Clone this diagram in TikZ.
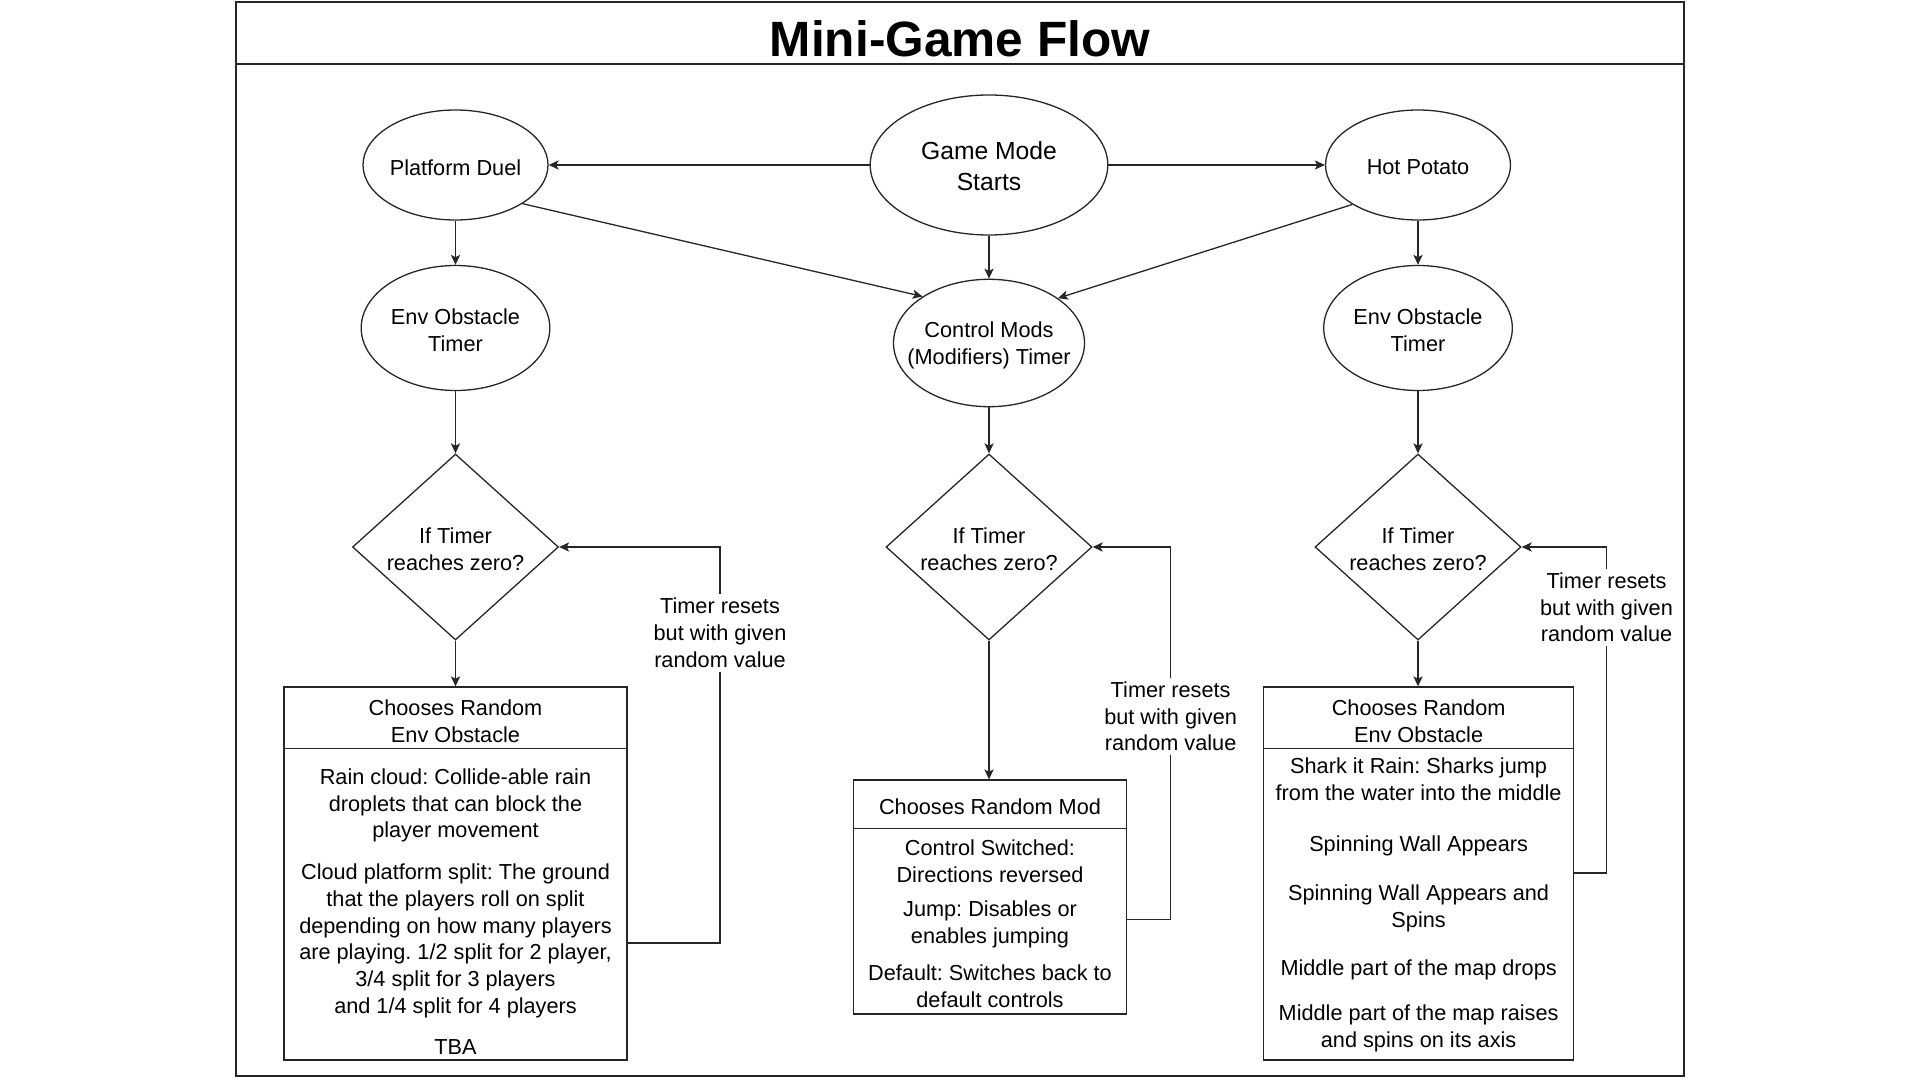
\documentclass[tikz,border=0pt]{standalone}
\usepackage{fontspec}
\setmainfont{Liberation Sans}
\usetikzlibrary{shapes.geometric,arrows.meta}
\frenchspacing
\begin{document}
\begin{tikzpicture}[x=0.5pt,y=-0.5pt,
  ln/.style={line width=0.65pt, draw=black!85},
  arr/.style={ln, -{Stealth[length=5pt,width=4.6pt,inset=1.2pt]}},
  ell/.style={ellipse, ln, inner sep=0pt},
  dia/.style={diamond, ln, inner sep=0pt, minimum width=103pt, minimum height=93pt},
  box/.style={rectangle, ln, inner sep=0pt},
  txt/.style={align=center, inner sep=0pt, yshift=-1.2pt, font=\fontsize{10.85}{13.4}\selectfont},
  big/.style={align=center, inner sep=0pt, yshift=-0.6pt, font=\fontsize{12.35}{15.3}\selectfont},
  lbl/.style={txt, fill=white, inner sep=2pt},
]
\useasboundingbox (0,0) rectangle (1920,1080);
% frame and title
\draw[ln] (236,2) rectangle (1684,1076);
\draw[ln] (236,64) -- (1684,64);
\node[font=\bfseries\fontsize{24.8}{30}\selectfont, inner sep=0pt] (title) at (960,39) {Mini-Game Flow};

% ellipses
\node[ell, minimum width=118.8pt, minimum height=70pt] (gms) at (989,165) {};
\node[big] (gmsT) at (gms) {Game Mode\\Starts};
\node[ell, minimum width=92.5pt, minimum height=55pt] (pd) at (455.5,165) {};
\node[txt] (pdT) at (pd) {Platform Duel};
\node[ell, minimum width=92.5pt, minimum height=55pt] (hp) at (1418,165) {};
\node[txt] (hpT) at (hp) {Hot Potato};
\node[ell, minimum width=94.3pt, minimum height=62.5pt] (eol) at (455.5,328) {};
\node[txt] (eolT) at (eol) {Env Obstacle\\Timer};
\node[ell, minimum width=95.5pt, minimum height=63.7pt] (cm) at (989,343) {};
\node[txt] (cmT) at (cm) {Control Mods\\(Modifiers) Timer};
\node[ell, minimum width=94.3pt, minimum height=62.5pt] (eor) at (1418,328) {};
\node[txt] (eorT) at (eor) {Env Obstacle\\Timer};

% diamonds
\node[dia] (ld) at (455.5,547) {};
\node[txt] (ldT) at (ld) {If Timer\\reaches zero?};
\node[dia] (md) at (989,547) {};
\node[txt] (mdT) at (md) {If Timer\\reaches zero?};
\node[dia] (rd) at (1418,547) {};
\node[txt] (rdT) at (rd) {If Timer\\reaches zero?};

% boxes
\node[box, minimum width=171.5pt, minimum height=186.5pt] (lbox) at (455.5,873.5) {};
\draw[ln] ([yshift=-31pt]lbox.north west) -- ([yshift=-31pt]lbox.north east);
\node[txt] (lh) at (455.5,719) {Chooses Random\\Env Obstacle};
\node[txt] (lb1) at (455.5,803) {Rain cloud: Collide-able rain\\droplets that can block the\\player movement};
\node[txt] (lb2) at (455.5,938.5) {Cloud platform split: The ground\\that the players roll on split\\depending on how many players\\are playing. 1/2 split for 2 player,\\3/4 split for 3 players\\and 1/4 split for 4 players};
\node[txt] (lb3) at (455.5,1044.5) {TBA};

\node[box, minimum width=136.5pt, minimum height=117pt] (mbox) at (990,897) {};
\draw[ln] ([yshift=-24.5pt]mbox.north west) -- ([yshift=-24.5pt]mbox.north east);
\node[txt] (mh) at (990,804.5) {Chooses Random Mod};
\node[txt] (mb1) at (990,858.5) {Control Switched:\\Directions reversed};
\node[txt] (mb2) at (990,922) {Jump: Disables or\\enables jumping};
\node[txt] (mb3) at (990,983.5) {Default: Switches back to\\default controls};

\node[box, minimum width=154.9pt, minimum height=186.5pt] (rbox) at (1418.6,873.5) {};
\draw[ln] ([yshift=-31pt]rbox.north west) -- ([yshift=-31pt]rbox.north east);
\node[txt] (rh) at (1418.6,719) {Chooses Random\\Env Obstacle};
\node[txt] (rb1) at (1418.6,776.5) {Shark it Rain: Sharks jump\\from the water into the middle};
\node[txt] (rb2) at (1418.6,843.7) {Spinning Wall Appears};
\node[txt] (rb3) at (1418.6,906) {Spinning Wall Appears and\\Spins};
\node[txt] (rb4) at (1418.6,967.4) {Middle part of the map drops};
\node[txt] (rb5) at (1418.6,1026) {Middle part of the map raises\\and spins on its axis};

% connectors
\draw[arr] (gms) -- (pd);
\draw[arr] (gms) -- (hp);
\draw[arr] (gms) -- (cm);
\draw[arr] (pd.-30.5) -- (cm.145.6);
\draw[arr] (hp.211.7) -- (cm.33.6);
\draw[arr] (pd) -- (eol);
\draw[arr] (hp) -- (eor);
\draw[arr] (eol) -- (ld);
\draw[arr] (cm) -- (md);
\draw[arr] (eor) -- (rd);
\draw[arr] (ld) -- (lbox);
\draw[arr] (md.south) -- (md.south |- mbox.north);
\draw[arr] (rd.south) -- (rd.south |- rbox.north);

% loops
\coordinate (lc) at (720,943);
\draw[arr] (lbox.east |- lc) -- (lc) |- (ld.east);
\node[lbl] (ll) at (720,630.6) {Timer resets\\but with given\\random value};
\coordinate (mc) at (1170.6,919.6);
\draw[arr] (mbox.east |- mc) -- (mc) |- (md.east);
\node[lbl] (ml) at (1170.6,714) {Timer resets\\but with given\\random value};
\coordinate (rc) at (1606.5,873);
\draw[arr] (rbox.east |- rc) -- (rc) |- (rd.east);
\node[lbl] (rl) at (1606.5,605) {Timer resets\\but with given\\random value};
\end{tikzpicture}
\end{document}
